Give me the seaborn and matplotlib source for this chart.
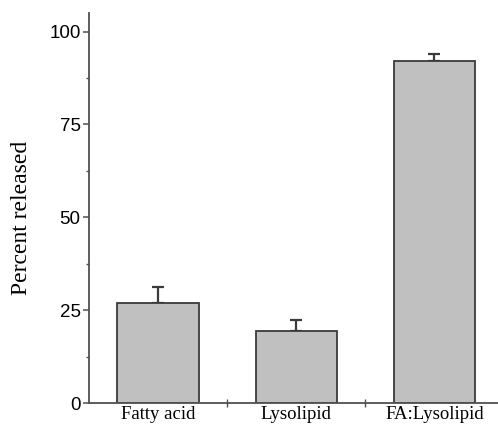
import matplotlib
matplotlib.use("Agg")
import matplotlib.pyplot as plt
from matplotlib.ticker import FixedLocator, MultipleLocator
import seaborn as sns
import pandas as pd

categories = ["Fatty acid", "Lysolipid", "FA:Lysolipid"]
percent_released = [26.9, 19.4, 92.0]
error_upper = [4.2, 3.0, 2.0]
y_ticks = [0, 25, 50, 75, 100]

df = pd.DataFrame({"group": categories, "released": percent_released})

sns.set_style("ticks")
plt.rcParams["font.family"] = ["Liberation Sans", "DejaVu Sans"]
plt.rcParams["text.color"] = "black"
plt.rcParams["axes.labelcolor"] = "black"
plt.rcParams["xtick.labelcolor"] = "black"
plt.rcParams["ytick.labelcolor"] = "black"

fig = plt.figure(figsize=(4.98, 4.26), dpi=100)
ax = fig.add_axes([89 / 498, 23 / 426, (498 - 89) / 498, 390 / 426])

axis_color = "#505050"

# error bars first, so the bar tops sit over the stems
ax.errorbar(range(len(categories)), percent_released,
            yerr=[[0] * len(categories), error_upper],
            fmt="none", ecolor="#3a3a3a", elinewidth=1.6,
            capsize=4.5, capthick=1.6, zorder=1)

sns.barplot(data=df, x="group", y="released", order=categories,
            color="#c0c0c0", edgecolor="#3a3a3a", linewidth=1.3,
            width=0.59, saturation=1, errorbar=None, ax=ax, zorder=2)
for p in ax.patches:
    p.set_zorder(2)
    p.set_facecolor("#c0c0c0")

ax.set_xlim(-0.5, 2.46)
ax.set_ylim(0, 105)

sns.despine(ax=ax)
for side in ("left", "bottom"):
    ax.spines[side].set_color(axis_color)
    ax.spines[side].set_linewidth(1.3)

# y axis: labelled majors every 25, unlabelled minors between
ax.yaxis.set_major_locator(FixedLocator(y_ticks))
ax.yaxis.set_minor_locator(MultipleLocator(12.5))
ax.tick_params(axis="y", which="major", direction="out", length=4.5,
               width=1.1, color=axis_color, labelsize=13.5, pad=1.5,
               labelcolor="black")
ax.tick_params(axis="y", which="minor", direction="out", length=2.5,
               width=1.0, color=axis_color)

# x axis: category names without ticks, small crossing ticks between groups
ax.set_xticks(range(len(categories)))
ax.set_xticklabels(categories, family=["Liberation Serif", "DejaVu Serif"])
ax.xaxis.set_minor_locator(FixedLocator([0.5, 1.5]))
ax.tick_params(axis="x", which="major", length=0, labelsize=13.5, pad=2,
               labelcolor="black")
ax.tick_params(axis="x", which="minor", direction="inout", length=6,
               width=1.0, color=axis_color)

ax.set_xlabel("")
ax.set_ylabel("Percent released", family=["Liberation Serif", "DejaVu Serif"],
              fontsize=17, color="black")
ax.yaxis.set_label_coords(-0.14, 0.474)

fig.savefig("out.png", dpi=100)
